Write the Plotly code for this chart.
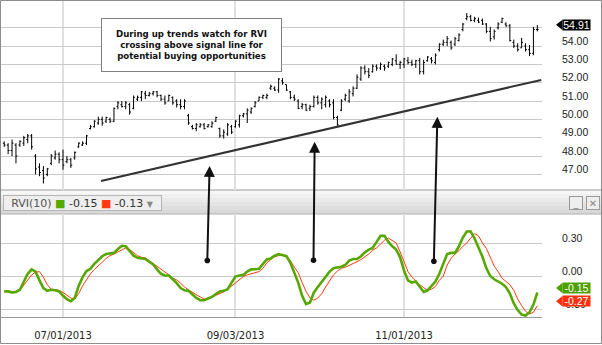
import plotly.graph_objects as go

# ---------------- data ----------------
date_tick_idx = [15, 59, 102]
date_tick_text = ["07/01/2013", "09/03/2013", "11/01/2013"]

high = [48.8, 48.7, 48.9, 48.7, 48.85, 49.1, 49.2, 49.2, 48.1, 47.6,
        47.45, 47.35, 48.1, 48.3, 48.2, 48.35, 48.0, 47.9, 48.25, 48.75,
        48.8, 49.15, 49.7, 49.95, 50.15, 50.15, 50.15, 50.1, 50.65, 51.0,
        51.0, 51.0, 50.9, 51.3, 51.3, 51.55, 51.55, 51.5, 51.55, 51.55,
        51.35, 51.3, 51.35, 51.25, 51.1, 51.1, 51.1, 50.3, 49.7, 49.8,
        49.8, 49.8, 49.75, 49.9, 50.15, 49.55, 49.45, 49.8, 49.7, 49.95,
        50.25, 50.35, 50.6, 50.65, 51.0, 51.25, 51.35, 51.4, 51.9, 51.8,
        52.25, 52.25, 51.9, 51.55, 51.35, 51.1, 50.9, 50.85, 50.8, 51.3,
        51.3, 51.2, 51.3, 51.1, 51.1, 50.2, 51.1, 51.4, 51.65, 51.8,
        52.45, 52.9, 52.95, 52.8, 53.0, 53.0, 53.1, 53.0, 53.15, 53.35,
        53.55, 53.2, 53.35, 53.4, 53.25, 53.25, 53.35, 53.25, 53.45, 53.4,
        53.6, 54.15, 54.35, 54.55, 54.3, 54.5, 54.7, 55.25, 55.8, 55.7,
        55.6, 55.55, 55.5, 55.25, 55.05, 54.9, 55.3, 55.55, 55.3, 55.2,
        54.35, 54.15, 54.45, 54.15, 54.05, 55.05, 55.15]
low = [48.5, 48.1, 48.0, 47.6, 48.5, 48.55, 48.7, 48.35, 47.0, 46.9,
       46.5, 46.9, 47.5, 47.8, 47.6, 47.25, 47.6, 47.35, 47.8, 48.45,
       48.55, 48.6, 49.45, 49.55, 49.7, 49.65, 49.8, 49.8, 49.85, 50.55,
       50.65, 50.55, 50.25, 50.55, 51.0, 51.0, 51.1, 51.25, 51.3, 51.2,
       51.0, 50.8, 51.0, 50.8, 50.65, 50.55, 50.55, 49.7, 49.45, 49.35,
       49.55, 49.45, 49.55, 49.55, 49.85, 49.0, 48.95, 49.1, 49.2, 49.55,
       49.55, 50.1, 49.8, 50.3, 50.65, 51.0, 51.1, 51.1, 51.6, 51.55,
       51.45, 51.9, 51.55, 51.1, 51.0, 50.55, 50.55, 50.45, 50.45, 50.65,
       50.8, 50.55, 50.65, 50.65, 50.0, 49.65, 50.45, 51.0, 50.9, 51.25,
       51.65, 52.1, 52.45, 52.25, 52.55, 52.65, 52.7, 52.65, 52.8, 52.9,
       53.0, 52.75, 52.8, 53.0, 52.9, 52.8, 52.45, 52.45, 53.15, 53.05,
       53.0, 53.7, 54.0, 54.0, 53.8, 54.0, 54.25, 54.8, 55.4, 55.35,
       55.3, 55.25, 55.15, 54.7, 54.25, 54.35, 54.9, 55.25, 55.05, 54.25,
       53.9, 53.7, 53.9, 53.7, 53.45, 53.5, 54.8]
open_ = [48.7, 48.6, 48.3, 48.6, 48.6, 48.7, 48.9, 49.1, 48.0, 47.4,
         47.2, 47.0, 47.6, 47.9, 48.1, 47.8, 47.7, 47.8, 47.9, 48.5,
         48.6, 48.7, 49.5, 49.6, 49.8, 50.0, 49.9, 50.0, 49.9, 50.7,
         50.8, 50.7, 50.8, 50.6, 51.1, 51.2, 51.4, 51.3, 51.4, 51.5,
         51.3, 51.1, 51.0, 51.2, 51.0, 50.8, 50.7, 50.2, 49.6, 49.5,
         49.6, 49.7, 49.6, 49.6, 49.9, 49.5, 49.1, 49.2, 49.6, 49.6,
         49.7, 50.2, 50.3, 50.4, 50.7, 51.0, 51.2, 51.2, 51.7, 51.7,
         51.6, 52.1, 51.9, 51.5, 51.2, 51.0, 50.7, 50.8, 50.6, 50.7,
         51.2, 50.9, 50.8, 51.0, 50.9, 50.1, 50.5, 51.1, 51.0, 51.4,
         51.7, 52.2, 52.8, 52.6, 52.6, 52.9, 52.8, 52.9, 52.9, 53.0,
         53.2, 53.0, 53.0, 53.2, 53.1, 53.0, 53.2, 52.6, 53.2, 53.3,
         53.1, 53.8, 54.1, 54.2, 54.2, 54.1, 54.3, 54.9, 55.5, 55.6,
         55.4, 55.4, 55.4, 55.2, 54.8, 54.5, 55.0, 55.3, 55.2, 55.1,
         54.2, 54.0, 53.9, 54.0, 53.8, 53.6, 54.9]
close = [48.6, 48.3, 48.7, 48.0, 48.8, 49.0, 49.1, 48.5, 47.3, 47.1,
         46.8, 47.3, 48.0, 48.1, 47.8, 47.5, 47.8, 47.5, 48.2, 48.7,
         48.7, 49.1, 49.6, 49.9, 50.0, 49.8, 50.1, 49.9, 50.6, 50.9,
         50.7, 50.9, 50.4, 51.2, 51.2, 51.5, 51.3, 51.4, 51.5, 51.3,
         51.1, 50.9, 51.3, 50.9, 50.8, 50.7, 51.0, 49.8, 49.5, 49.7,
         49.7, 49.5, 49.7, 49.8, 50.1, 49.1, 49.3, 49.7, 49.3, 49.9,
         50.2, 50.3, 50.5, 50.6, 50.9, 51.2, 51.3, 51.3, 51.8, 51.6,
         52.2, 52.0, 51.6, 51.2, 51.1, 50.6, 50.8, 50.5, 50.7, 51.2,
         50.9, 51.1, 51.2, 50.8, 50.1, 49.7, 51.0, 51.3, 51.5, 51.7,
         52.3, 52.8, 52.6, 52.4, 52.9, 52.8, 53.0, 52.8, 53.1, 53.3,
         53.0, 53.1, 53.3, 53.1, 53.0, 53.2, 52.6, 53.1, 53.4, 53.2,
         53.5, 54.1, 54.2, 54.4, 53.9, 54.4, 54.6, 55.2, 55.6, 55.4,
         55.5, 55.3, 55.2, 54.8, 54.4, 54.8, 55.2, 55.5, 55.1, 54.3,
         54.0, 53.8, 54.2, 53.8, 53.6, 54.9, 54.91]

rvi = [-0.14, -0.14, -0.15, -0.145, -0.125, -0.05, 0.02, 0.06, 0.04, -0.04,
       -0.11, -0.135, -0.125, -0.13, -0.14, -0.18, -0.21, -0.23, -0.2, -0.09,
       -0.01, 0.045, 0.065, 0.11, 0.145, 0.18, 0.2, 0.205, 0.21, 0.245,
       0.275, 0.27, 0.23, 0.185, 0.165, 0.16, 0.155, 0.13, 0.105, 0.06,
       0.02, 0.005, 0.005, -0.03, -0.065, -0.11, -0.13, -0.135, -0.17, -0.2,
       -0.22, -0.22, -0.205, -0.19, -0.165, -0.14, -0.135, -0.12, -0.06, -0.005,
       0.005, 0.01, 0.04, 0.06, 0.062, 0.065, 0.11, 0.15, 0.16, 0.185,
       0.2, 0.19, 0.18, 0.12, 0.03, -0.06, -0.18, -0.255, -0.24, -0.15,
       -0.1, -0.055, -0.01, 0.04, 0.07, 0.075, 0.085, 0.1, 0.14, 0.155,
       0.155, 0.18, 0.215, 0.24, 0.255, 0.31, 0.365, 0.365, 0.31, 0.27,
       0.24, 0.17, 0.05, -0.04, -0.06, -0.05, -0.1, -0.145, -0.13, -0.09,
       -0.05, 0.02, 0.11, 0.2, 0.21, 0.21, 0.27, 0.35, 0.405, 0.405,
       0.34, 0.26, 0.175, 0.07, 0.0, -0.03, -0.05, -0.07, -0.1, -0.16,
       -0.25, -0.31, -0.35, -0.36, -0.33, -0.26, -0.15]
signal = [-0.14, -0.14, -0.14, -0.14, -0.13, -0.08, -0.03, 0.01, 0.035, 0.04,
          -0.01, -0.08, -0.12, -0.125, -0.13, -0.15, -0.175, -0.2, -0.21, -0.16,
          -0.09, -0.03, 0.02, 0.06, 0.09, 0.125, 0.16, 0.185, 0.2, 0.22,
          0.235, 0.255, 0.24, 0.21, 0.185, 0.17, 0.165, 0.14, 0.115, 0.085,
          0.06, 0.04, 0.01, -0.02, -0.035, -0.065, -0.1, -0.125, -0.15, -0.17,
          -0.19, -0.21, -0.205, -0.19, -0.175, -0.16, -0.145, -0.12, -0.09, -0.06,
          -0.035, -0.005, 0.01, 0.02, 0.03, 0.04, 0.07, 0.12, 0.15, 0.175,
          0.185, 0.19, 0.18, 0.14, 0.08, 0.03, -0.06, -0.14, -0.2, -0.22,
          -0.2, -0.16, -0.1, -0.05, 0.01, 0.045, 0.07, 0.08, 0.095, 0.115,
          0.13, 0.15, 0.175, 0.2, 0.235, 0.255, 0.29, 0.325, 0.345, 0.32,
          0.3, 0.22, 0.12, 0.04, -0.01, -0.05, -0.08, -0.105, -0.13, -0.12,
          -0.095, -0.04, 0.0, 0.1, 0.16, 0.2, 0.23, 0.27, 0.3, 0.345,
          0.385, 0.365, 0.3, 0.25, 0.17, 0.09, 0.04, -0.02, -0.05, -0.08,
          -0.13, -0.21, -0.27, -0.32, -0.345, -0.33, -0.27]

price_ticks = [47, 48, 49, 50, 51, 52, 53, 54, 55]
price_tick_text = ["47.00", "48.00", "49.00", "50.00", "51.00", "52.00", "53.00", "54.00", ""]
rvi_ticks = [-0.3, 0.0, 0.3]
rvi_tick_text = ["-0.30", "0.00", "0.30"]

last_price = 54.91
last_rvi = -0.15
last_signal = -0.27
legend_rvi = -0.15
legend_signal = -0.13

trend_start = (24.7, 46.64)
trend_end = (137.0, 52.15)
# arrows: (x tip, price tip, x tail, rvi tail)
arrows = [(52.4, 47.46, 51.8, 0.127),
          (79.2, 48.78, 78.9, 0.13),
          (110.5, 50.14, 109.6, 0.12)]

note_text = "During up trends watch for RVI<br>crossing above signal line for<br>potential buying opportunities"

# ---------------- layout geometry ----------------
W, H = 602, 345
ML, MR, MT, MB = 1, 60, 1, 28
PW, PH = W - ML - MR, H - MT - MB
top_dom = [(H - MB - 190) / PH, 1.0]
bot_dom = [0.0, (H - MB - 214) / PH]
price_range = [46.146, 56.457]
rvi_range = [-0.3727, 0.5636]
x_range = [-0.816, 137.19]

def pxx(px):
    return (px - ML) / PW

def pxy(py):
    return (H - MB - py) / PH

def price_paper(p):
    return top_dom[0] + (p - price_range[0]) / (price_range[1] - price_range[0]) * (top_dom[1] - top_dom[0])

def rvi_paper(v):
    return bot_dom[0] + (v - rvi_range[0]) / (rvi_range[1] - rvi_range[0]) * (bot_dom[1] - bot_dom[0])

def paper_to_py(yp):
    return H - MB - yp * PH

xs = list(range(len(close)))

fig = go.Figure()
fig.add_trace(go.Ohlc(
    x=xs, open=open_, high=high, low=low, close=close,
    increasing=dict(line=dict(color="#000000", width=1)),
    decreasing=dict(line=dict(color="#000000", width=1)),
    tickwidth=0.35, xaxis="x", yaxis="y", hoverinfo="skip", showlegend=False))
fig.add_trace(go.Scatter(x=xs, y=signal, mode="lines", xaxis="x2", yaxis="y2",
                         line=dict(color="#ff3a12", width=1), showlegend=False, hoverinfo="skip"))
fig.add_trace(go.Scatter(x=xs, y=rvi, mode="lines", xaxis="x2", yaxis="y2",
                         line=dict(color="#56a800", width=2.6), showlegend=False, hoverinfo="skip"))

grid_h = "#c9c9c9"
grid_v = "#e0e0e0"
fig.update_layout(
    width=W, height=H, margin=dict(l=ML, r=MR, t=MT, b=MB, pad=0),
    paper_bgcolor="white", plot_bgcolor="white",
    font=dict(family="DejaVu Sans", size=10, color="#222"),
    xaxis=dict(domain=[0, 1], range=x_range, anchor="y", tickvals=date_tick_idx,
               showticklabels=False, showgrid=True, gridcolor=grid_v, gridwidth=2,
               zeroline=False, rangeslider=dict(visible=False), ticks="", showline=False),
    xaxis2=dict(domain=[0, 1], range=x_range, anchor="y2", matches="x", tickvals=date_tick_idx,
                ticktext=date_tick_text, showgrid=True, gridcolor=grid_v, gridwidth=2,
                zeroline=False, ticks="", ticklabelstandoff=9, showline=True, linecolor="#9a9a9a",
                tickfont=dict(family="DejaVu Sans", size=10, color="#222")),
    yaxis=dict(domain=top_dom, range=price_range, side="right", tickvals=price_ticks,
               ticktext=price_tick_text, showgrid=True, gridcolor=grid_h, gridwidth=1,
               zeroline=False, ticks="", ticklabelposition="outside", ticklabelshift=-5,
               ticklabelstandoff=19,
               tickfont=dict(family="Liberation Sans", size=10.5, color="#222"), fixedrange=True),
    yaxis2=dict(domain=bot_dom, range=rvi_range, side="right", tickvals=rvi_ticks,
                ticktext=rvi_tick_text, showgrid=True, gridcolor=grid_h, gridwidth=1,
                zeroline=False, ticks="", ticklabelposition="outside", ticklabelshift=-5,
                ticklabelstandoff=19,
                tickfont=dict(family="Liberation Sans", size=10.5, color="#222"), fixedrange=True),
)

shapes = []
annots = []

# header bar between panels (simple gradient in stripes)
stripes = ["#f6f6f6", "#f0f0f0", "#eaeaea", "#e4e4e4", "#dedede", "#d9d9d9"]
h0, h1 = 190, 214
step = (h1 - h0) / len(stripes)
for i, c in enumerate(stripes):
    shapes.append(dict(type="rect", xref="paper", yref="paper", x0=pxx(0), x1=pxx(602),
                       y0=pxy(h0 + (i + 1) * step), y1=pxy(h0 + i * step),
                       fillcolor=c, line=dict(width=0), layer="below"))
shapes.append(dict(type="line", xref="paper", yref="paper", x0=pxx(0), x1=pxx(602),
                   y0=pxy(190), y1=pxy(190), line=dict(color="#9a9a9a", width=1), layer="below"))
shapes.append(dict(type="line", xref="paper", yref="paper", x0=pxx(0), x1=pxx(602),
                   y0=pxy(214), y1=pxy(214), line=dict(color="#b0b0b0", width=1), layer="below"))
# legend pill (drawn as annotation box so the text stays on top)
annots.append(dict(xref="paper", yref="paper", x=pxx(3), y=pxy(203), xanchor="left", yanchor="middle",
                   showarrow=False, font=dict(family="DejaVu Sans", size=11, color="#333"),
                   bgcolor="#eeeeee", bordercolor="#b5b5b5", borderwidth=1, borderpad=1,
                   width=155, height=12, align="center",
                   text=("<span style='color:#555'>RVI(10)</span> "
                         "<span style='color:#56a800'>■</span> %.2f "
                         "<span style='color:#ff3a12'>■</span> %.2f "
                         "<span style='color:#888;font-size:8px'>▼</span>") % (legend_rvi, legend_signal)))
# window buttons
for bx0, bx1, sym in [(569, 583, "_"), (585.5, 599.5, "✕")]:
    annots.append(dict(xref="paper", yref="paper", x=pxx((bx0 + bx1) / 2), y=pxy(203),
                       xanchor="center", yanchor="middle", showarrow=False, text=sym,
                       width=12, height=12, bgcolor="#eeeeee", bordercolor="#9a9a9a",
                       borderwidth=1, borderpad=0, valign="bottom" if sym == "_" else "middle",
                       font=dict(family="DejaVu Sans", size=10, color="#888")))

# trend line
shapes.append(dict(type="line", xref="x", yref="y", x0=trend_start[0], y0=trend_start[1],
                   x1=trend_end[0], y1=trend_end[1], line=dict(color="#333333", width=2)))

# note box
annots.append(dict(xref="paper", yref="paper", x=pxx(191.5), y=pxy(45), xanchor="center",
                   yanchor="middle", showarrow=False,
                   text="<b>" + note_text + "</b>", align="center",
                   width=175, height=48, bgcolor="white", bordercolor="#808080",
                   borderwidth=1, borderpad=2,
                   font=dict(family="DejaVu Sans", size=8.6, color="#111")))

# arrows spanning both panels
px_per_x = PW / (x_range[1] - x_range[0])
for xt, pt, xb, vb in arrows:
    yp_tip = price_paper(pt)
    yp_tail = rvi_paper(vb)
    annots.append(dict(xref="x", yref="paper", x=xt, y=yp_tip, text="", showarrow=True,
                       ax=(xb - xt) * px_per_x, ay=(yp_tip - yp_tail) * PH, axref="pixel", ayref="pixel",
                       arrowhead=2, arrowsize=1.1, arrowwidth=2, arrowcolor="#111",
                       arrowside="end+start", startarrowhead=6, startarrowsize=0.7, standoff=0, startstandoff=0))

# value badges on right axis
def badge(yp, text, color, shift=-4.5):
    cy = paper_to_py(yp) + shift
    tip, bx0, bx1, hh = 556, 562, 589, 5.2
    path = "M {a},{cy} L {b},{t} L {b},{bt} Z".format(
        a=pxx(tip), b=pxx(bx0 + 0.5), cy=pxy(cy), t=pxy(cy - hh), bt=pxy(cy + hh))
    shapes.append(dict(type="path", xref="paper", yref="paper", path=path, fillcolor=color,
                       line=dict(width=0), layer="above"))
    annots.append(dict(xref="paper", yref="paper", x=pxx(bx0), y=pxy(cy), xanchor="left",
                       yanchor="middle", showarrow=False, text=text, bgcolor=color,
                       width=bx1 - bx0, height=2 * hh, borderpad=0,
                       font=dict(family="Liberation Sans", size=10.5, color="white")))

badge(price_paper(last_price), "%.2f" % last_price, "#000000")
badge(rvi_paper(last_rvi), "%.2f" % last_rvi, "#4ea000")
badge(rvi_paper(last_signal), "%.2f" % last_signal, "#ff3010")

# outer frame
shapes.append(dict(type="rect", xref="paper", yref="paper", x0=pxx(0.5), x1=pxx(601.5),
                   y0=pxy(343.5), y1=pxy(0.5), line=dict(color="#8c8c8c", width=1),
                   fillcolor="rgba(0,0,0,0)", layer="above"))

fig.update_layout(shapes=shapes, annotations=annots)
fig.write_html("out.html")
